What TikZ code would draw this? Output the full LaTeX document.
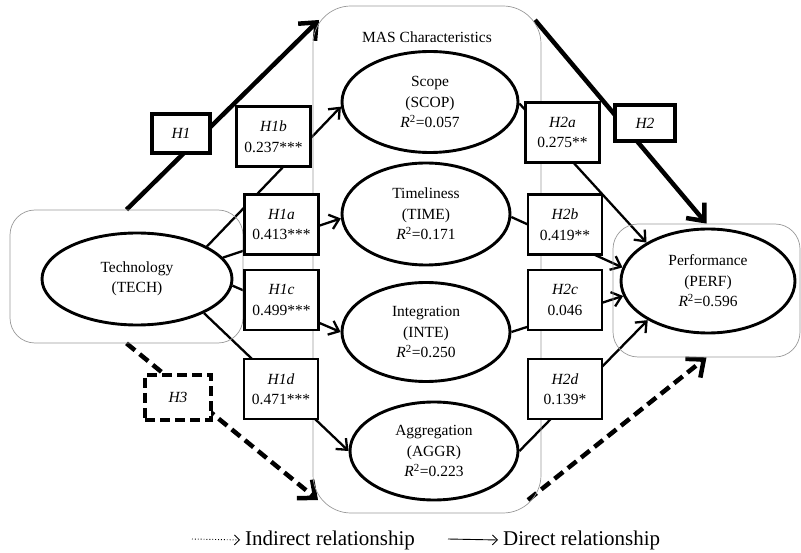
\documentclass[tikz,border=0pt]{standalone}
\usepackage{fontspec}
\setmainfont{Liberation Serif}
\usetikzlibrary{arrows.meta,shapes.geometric}
\pgfdeclarelayer{bg}
\pgfsetlayers{bg,main}

\tikzset{
  txt/.style={font=\fontsize{15.5}{20.5}\selectfont, align=center},
  latent/.style={txt, ellipse, draw, line width=2.9pt, fill=white, inner sep=0pt},
  pathbox/.style={txt, rectangle, draw, line width=2.8pt, fill=white, inner sep=0pt,
    minimum width=74pt, minimum height=60pt},
  hypbox/.style={txt, rectangle, draw, line width=4.5pt, fill=white, inner sep=0pt},
  groupbox/.style={rectangle, draw=gray!80, line width=0.7pt, inner sep=0pt},
  conn/.style={line width=2.3pt, -{Straight Barb[length=9pt,width=15pt]}},
  bigconn/.style={line width=4.5pt, -{Straight Barb[length=14pt,width=24pt]}},
  indconn/.style={bigconn, dash pattern=on 11pt off 6pt},
  legtxt/.style={anchor=west, font=\fontsize{21}{24}\selectfont, inner xsep=5pt, inner ysep=0pt},
  legarrow/.style={line width=0.9pt, -{Straight Barb[length=5pt,width=10pt]}}
}

\begin{document}
\begin{tikzpicture}[x=1pt,y=-1pt]
\useasboundingbox (0,0) rectangle (801,553);

% groups
\node[groupbox, rounded corners=25pt, minimum width=233pt, minimum height=133pt] (techbox) at (126.5,276.5) {};
\node[groupbox, rounded corners=38pt, minimum width=228pt, minimum height=507pt] (masbox) at (427,259.5) {};
\node[groupbox, rounded corners=25pt, minimum width=187pt, minimum height=133pt] (perfbox) at (706.5,290.5) {};
\node[txt] (mastitle) at (427,37) {MAS Characteristics};

% constructs
\node[latent, minimum width=190pt, minimum height=92pt] (tech) at (137,279) {Technology\\(TECH)};
\node[latent, minimum width=176pt, minimum height=101pt] (scop) at (430,102) {Scope\\(SCOP)\\\textit{R}\textsuperscript{2}=0.057};
\node[latent, minimum width=168pt, minimum height=102pt] (time) at (426,214) {Timeliness\\(TIME)\\\textit{R}\textsuperscript{2}=0.171};
\node[latent, minimum width=168pt, minimum height=99pt] (inte) at (426,332) {Integration\\(INTE)\\\textit{R}\textsuperscript{2}=0.250};
\node[latent, minimum width=168pt, minimum height=98pt] (aggr) at (434,451) {Aggregation\\(AGGR)\\\textit{R}\textsuperscript{2}=0.223};
\node[latent, minimum width=174pt, minimum height=104pt] (perf) at (708,281) {Performance\\(PERF)\\\textit{R}\textsuperscript{2}=0.596};

% path coefficients
\foreach \nm/\px/\py/\hy/\est in {h1b/273.5/136.5/H1b/0.237***, h1a/281.5/224.5/H1a/0.413***,
    h1c/281.5/300/H1c/0.499***, h1d/281/389/H1d/0.471***, h2a/562.5/132.5/H2a/0.275**,
    h2b/565/224.5/H2b/0.419**, h2c/565/300/H2c/0.046, h2d/565/389/H2d/0.139*}
  \node[pathbox] (\nm) at (\px,\py) {\textit{\hy}\\\est};

\node[hypbox, minimum width=58pt, minimum height=39pt] (h1) at (181,133.5) {\textit{H1}};
\node[hypbox, minimum width=60pt, minimum height=36pt] (h2) at (645,123) {\textit{H2}};
\node[hypbox, dash pattern=on 10pt off 5pt, minimum width=66pt, minimum height=45pt] (h3) at (178,397.5) {\textit{H3}};

\coordinate (h1tip) at (319,20);
\coordinate (h2start) at (535,20);
\coordinate (h3tip) at (318,500);
\coordinate (h3start) at (528,500);

\begin{pgfonlayer}{bg}
\draw[conn] (tech.25) -- (scop.183);
\draw[conn] (tech.14) -- (time.183);
\draw[conn] (tech.-4) -- (inte.180);
\draw[conn] (tech.-27) -- (aggr.180);
\draw[conn] (scop.-1) -- (perf.148);
\draw[conn] (time.-2) -- (perf.171);
\draw[conn] (inte.0) -- (perf.190);
\draw[conn] (aggr.0) -- (perf.213);
\draw[bigconn] (techbox.north) -- (h1tip);
\draw[bigconn] (h2start) -- (perfbox.north);
\draw[indconn] (techbox.south) -- (h3tip);
\draw[indconn] (h3start) -- (perfbox.south);
\end{pgfonlayer}

% legend
\coordinate (legdot) at (192,539);
\coordinate (legline) at (448,539);
\node[legtxt] (legind) at (240,540) {Indirect relationship};
\node[legtxt] (legdir) at (498,540) {Direct relationship};
\draw[legarrow, dotted] (legdot) -- (legind.west);
\draw[legarrow] (legline) -- (legdir.west);
\end{tikzpicture}
\end{document}
